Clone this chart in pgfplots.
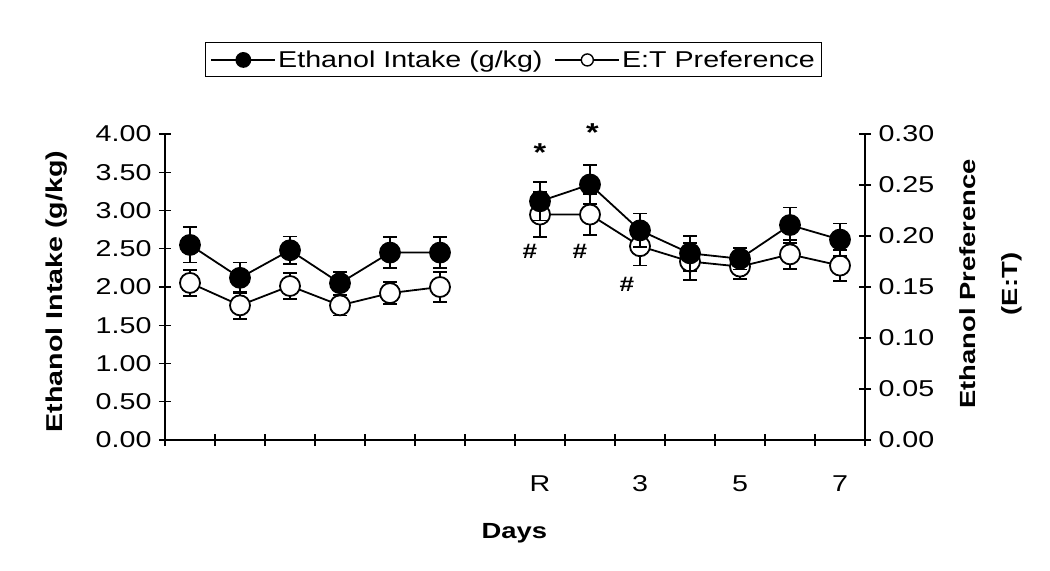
\documentclass[border=0pt]{standalone}
\usepackage{fontspec}
\setmainfont{Liberation Sans}[FakeStretch=1.25]
\usepackage{pgfplots}
\pgfplotsset{compat=1.18}
\pgfplotstableread{
x y e
0 2.55 0.23
1 2.12 0.20
2 2.48 0.18
3 2.05 0.15
4 2.45 0.20
5 2.45 0.20
}\intakeA
\pgfplotstableread{
x y e
7 3.12 0.25
8 3.34 0.25
9 2.74 0.22
10 2.44 0.23
11 2.37 0.14
12 2.81 0.23
13 2.62 0.21
}\intakeB
\pgfplotstableread{
x y e
0 0.154 0.013
1 0.132 0.013
2 0.151 0.013
3 0.132 0.010
4 0.144 0.011
5 0.150 0.015
}\prefA
\pgfplotstableread{
x y e
7 0.221 0.022
8 0.221 0.020
9 0.190 0.019
10 0.175 0.018
11 0.170 0.012
12 0.182 0.014
13 0.171 0.015
}\prefB
\begin{document}
\begin{tikzpicture}
\useasboundingbox (-165bp,-131bp) rectangle (885bp,440bp);
\pgfplotsset{
  every axis/.append style={
    at={(0,0)}, anchor=south west,
    scale only axis, width=700bp, height=306bp,
    xmin=-0.5, xmax=13.5,
    font=\fontsize{23}{27}\selectfont,
    axis line style={line width=1.4bp},
    tick style={line width=1.2bp, black},
    tick align=center,
    major tick length=12bp, minor tick length=12bp,
    clip=false,
    /pgf/number format/assume math mode=true,
    /pgf/number format/fixed, /pgf/number format/fixed zerofill,
    /pgf/number format/precision=2,
  },
  errstyle/.style={draw=none, mark=none, forget plot,
    error bars/.cd, y dir=both, y explicit,
    error bar style={draw=black, line width=1.8bp},
    error mark options={rotate=90, mark size=7bp, line width=1.8bp, draw=black}},
}
% right axis: preference (open circles)
\begin{axis}[
  axis x line=none, axis y line*=right,
  ymin=0, ymax=0.30,
  ytick={0,0.05,0.10,0.15,0.20,0.25,0.30},
  yticklabel style={xshift=4bp},
  ylabel={Ethanol Preference\\[16bp](E:T)},
  ylabel style={at={(axis description cs:1.18,0.51)}, anchor=center, align=center,
    font=\bfseries\fontsize{22}{26}\selectfont},
]
\addplot[black, line width=1.8bp, mark=*, mark size=10bp, mark options={fill=white, line width=1.8bp}, forget plot] table[x=x,y=y] {\prefA};
\addplot[errstyle] table[x=x,y=y,y error=e] {\prefA};
\addplot[black, line width=1.8bp, mark=*, mark size=10bp, mark options={fill=white, line width=1.8bp}, forget plot] table[x=x,y=y] {\prefB};
\addplot[errstyle] table[x=x,y=y,y error=e] {\prefB};
\end{axis}
% left axis: intake (filled circles)
\begin{axis}[
  axis x line*=bottom, axis y line*=left,
  ymin=0, ymax=4,
  ytick={0,0.5,1,1.5,2,2.5,3,3.5,4},
  yticklabel style={xshift=-4bp},
  xtick={7,9,11,13}, xticklabels={R,3,5,7},
  major x tick style={draw=none},
  minor xtick={-0.5,0.5,1.5,2.5,3.5,4.5,5.5,6.5,7.5,8.5,9.5,10.5,11.5,12.5,13.5},
  xticklabel style={yshift=-26bp},
  ylabel={\bfseries\fontsize{23}{27}\selectfont Ethanol Intake (g/kg)},
  ylabel style={at={(axis description cs:-0.155,0.485)}, anchor=center, rotate=0},
  xlabel={\bfseries\fontsize{22}{26}\selectfont Days},
  xlabel style={at={(axis description cs:0.499,0)}, anchor=base, yshift=-98bp},
  legend style={at={(axis description cs:0.498,1.242)}, anchor=center,
    draw=black, line width=1bp, legend columns=2,
    font=\fontsize{23}{27}\selectfont,
    /tikz/every even column/.append style={column sep=10bp},
    inner xsep=5bp, inner ysep=6bp},
  legend cell align=left,
  legend image code/.code={\draw[mark repeat=2,mark phase=2,#1] plot coordinates {(0bp,0bp) (32bp,0bp) (64bp,0bp)};},
]
\addplot[black, line width=1.8bp, mark=*, mark size=10bp, mark options={fill=black},
  legend image post style={mark size=7bp}] table[x=x,y=y] {\intakeA};
\addlegendentry{Ethanol Intake (g/kg)}
\addplot[errstyle] table[x=x,y=y,y error=e] {\intakeA};
\addplot[black, line width=1.8bp, mark=*, mark size=10bp, mark options={fill=black}, forget plot] table[x=x,y=y] {\intakeB};
\addplot[errstyle] table[x=x,y=y,y error=e] {\intakeB};
\addlegendimage{black, line width=1.6bp, mark=*, mark size=6bp, mark options={fill=white, line width=1.4bp}}
\addlegendentry{E:T Preference}
\node[font=\bfseries\fontsize{26}{26}\selectfont] at (axis cs:7.0,3.76) {*};
\node[font=\bfseries\fontsize{26}{26}\selectfont] at (axis cs:8.05,4.02) {*};
\node[font=\bfseries\fontsize{21}{21}\selectfont] at (axis cs:6.8,2.46) {\#};
\node[font=\bfseries\fontsize{21}{21}\selectfont] at (axis cs:7.8,2.46) {\#};
\node[font=\bfseries\fontsize{21}{21}\selectfont] at (axis cs:8.74,2.03) {\#};
\end{axis}
\end{tikzpicture}
\end{document}
